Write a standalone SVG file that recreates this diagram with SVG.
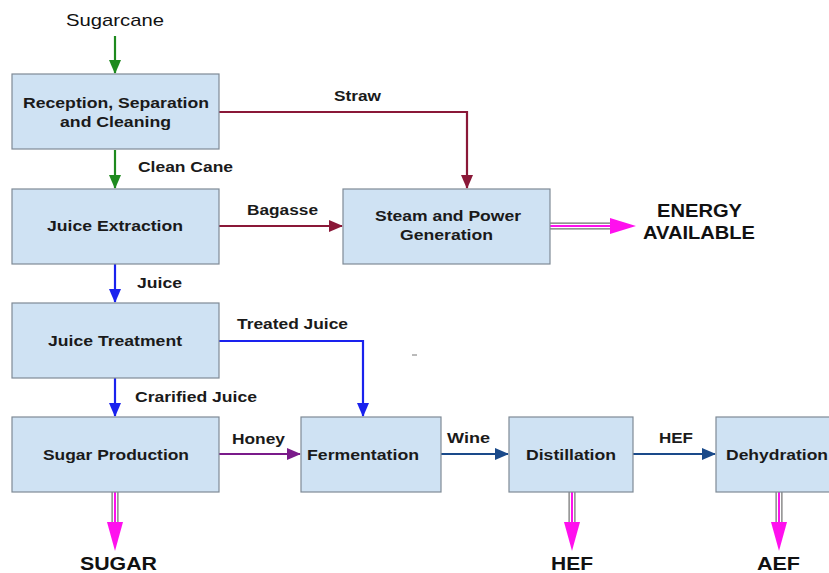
<svg xmlns="http://www.w3.org/2000/svg" width="829" height="573" viewBox="0 0 829 573">
<style>
.box{fill:#cfe2f3;stroke:#7f8a96;stroke-width:1.2}
.bt{font-family:"Liberation Sans",Arial,sans-serif;font-size:15px;font-weight:bold;fill:#1a1a1a;text-anchor:start}
.lb{font-family:"Liberation Sans",Arial,sans-serif;font-size:14px;font-weight:bold;fill:#1a1a1a;text-anchor:start}
.big{font-family:"Liberation Sans",Arial,sans-serif;font-size:18px;font-weight:bold;fill:#111;text-anchor:start}
.ln{fill:none;stroke-width:2.2}
</style>
<defs>
<marker id="ag" markerWidth="14" markerHeight="12" refX="13" refY="6" orient="auto" markerUnits="userSpaceOnUse" viewBox="0 0 14 12"><path d="M0,0 L14,6 L0,12 Z" fill="#1e8a1e"/></marker>
<marker id="ar" markerWidth="14" markerHeight="12" refX="13" refY="6" orient="auto" markerUnits="userSpaceOnUse" viewBox="0 0 14 12"><path d="M0,0 L14,6 L0,12 Z" fill="#8a1838"/></marker>
<marker id="ab" markerWidth="14" markerHeight="12" refX="13" refY="6" orient="auto" markerUnits="userSpaceOnUse" viewBox="0 0 14 12"><path d="M0,0 L14,6 L0,12 Z" fill="#1a22ee"/></marker>
<marker id="ap" markerWidth="14" markerHeight="12" refX="13" refY="6" orient="auto" markerUnits="userSpaceOnUse" viewBox="0 0 14 12"><path d="M0,0 L14,6 L0,12 Z" fill="#7a1a8a"/></marker>
<marker id="an" markerWidth="14" markerHeight="12" refX="13" refY="6" orient="auto" markerUnits="userSpaceOnUse" viewBox="0 0 14 12"><path d="M0,0 L14,6 L0,12 Z" fill="#1a4a8a"/></marker>
</defs>
<rect width="829" height="573" fill="#fff"/>
<text x="66" y="26" textLength="98" lengthAdjust="spacingAndGlyphs" style="font-family:'Liberation Sans',Arial,sans-serif;font-size:17px;fill:#111">Sugarcane</text>
<g id="connectors">
<path class="ln" d="M115,36 V73" stroke="#1e8a1e" marker-end="url(#ag)"/>
<path class="ln" d="M115,150 V188" stroke="#1e8a1e" marker-end="url(#ag)"/>
<path class="ln" d="M219,112 H467 V188" stroke="#8a1838" marker-end="url(#ar)"/>
<path class="ln" d="M219,226 H342" stroke="#8a1838" marker-end="url(#ar)"/>
<path class="ln" d="M115,264 V302" stroke="#1a22ee" marker-end="url(#ab)"/>
<path class="ln" d="M219,341 H363 V416" stroke="#1a22ee" marker-end="url(#ab)"/>
<path class="ln" d="M115,378 V416" stroke="#1a22ee" marker-end="url(#ab)"/>
<path class="ln" d="M219,454 H300" stroke="#7a1a8a" marker-end="url(#ap)"/>
<path class="ln" d="M441,454 H508" stroke="#1a4a8a" marker-end="url(#an)"/>
<path class="ln" d="M633,454 H715" stroke="#1a4a8a" marker-end="url(#an)"/>
<g id="double-arrows">
<path d="M550,226 H612" stroke="#6e6e6e" stroke-width="7" fill="none"/>
<path d="M550,226 H612" stroke="#fff" stroke-width="4.6" fill="none"/>
<path d="M550,226 H612" stroke="#ff10ee" stroke-width="2" fill="none"/>
<path d="M610,218 L636,226 L610,234 Z" fill="#ff10ee"/>
<path d="M115,492 V526" stroke="#6e6e6e" stroke-width="7" fill="none"/>
<path d="M115,492 V526" stroke="#fff" stroke-width="4.6" fill="none"/>
<path d="M115,492 V526" stroke="#ff10ee" stroke-width="2" fill="none"/>
<path d="M107,522 L115,551 L123,522 Z" fill="#ff10ee"/>
<path d="M572,492 V526" stroke="#6e6e6e" stroke-width="7" fill="none"/>
<path d="M572,492 V526" stroke="#fff" stroke-width="4.6" fill="none"/>
<path d="M572,492 V526" stroke="#ff10ee" stroke-width="2" fill="none"/>
<path d="M564,522 L572,551 L580,522 Z" fill="#ff10ee"/>
<path d="M779,492 V526" stroke="#6e6e6e" stroke-width="7" fill="none"/>
<path d="M779,492 V526" stroke="#fff" stroke-width="4.6" fill="none"/>
<path d="M779,492 V526" stroke="#ff10ee" stroke-width="2" fill="none"/>
<path d="M771,522 L779,551 L787,522 Z" fill="#ff10ee"/>
</g>
</g>
<g id="labels">
<text class="lb" x="138" y="172" textLength="95" lengthAdjust="spacingAndGlyphs">Clean Cane</text>
<text class="lb" x="334" y="101" textLength="47" lengthAdjust="spacingAndGlyphs">Straw</text>
<text class="lb" x="247" y="215" textLength="71" lengthAdjust="spacingAndGlyphs">Bagasse</text>
<text class="lb" x="137" y="288" textLength="45" lengthAdjust="spacingAndGlyphs">Juice</text>
<text class="lb" x="237" y="329" textLength="111" lengthAdjust="spacingAndGlyphs">Treated Juice</text>
<text class="lb" x="135" y="402" textLength="122" lengthAdjust="spacingAndGlyphs">Crarified Juice</text>
<text class="lb" x="232" y="444" textLength="53" lengthAdjust="spacingAndGlyphs">Honey</text>
<text class="lb" x="447" y="443" textLength="43" lengthAdjust="spacingAndGlyphs">Wine</text>
<text class="lb" x="659" y="443" textLength="34" lengthAdjust="spacingAndGlyphs">HEF</text>
</g>
<line x1="412" y1="355" x2="417" y2="355" stroke="#777" stroke-width="1"/>
<g id="n-reception"><rect class="box" x="12" y="74" width="207" height="75"/><text class="bt" x="23" y="108" textLength="186" lengthAdjust="spacingAndGlyphs">Reception, Separation</text><text class="bt" x="60" y="127" textLength="111" lengthAdjust="spacingAndGlyphs">and Cleaning</text></g>
<g id="n-extraction"><rect class="box" x="12" y="189" width="207" height="75"/><text class="bt" x="47" y="231" textLength="136" lengthAdjust="spacingAndGlyphs">Juice Extraction</text></g>
<g id="n-treatment"><rect class="box" x="12" y="303" width="207" height="75"/><text class="bt" x="48" y="346" textLength="134" lengthAdjust="spacingAndGlyphs">Juice Treatment</text></g>
<g id="n-sugar"><rect class="box" x="12" y="417" width="207" height="75"/><text class="bt" x="43" y="460" textLength="146" lengthAdjust="spacingAndGlyphs">Sugar Production</text></g>
<g id="n-steam"><rect class="box" x="343" y="189" width="207" height="75"/><text class="bt" x="375" y="221" textLength="146" lengthAdjust="spacingAndGlyphs">Steam and Power</text><text class="bt" x="400" y="240" textLength="93" lengthAdjust="spacingAndGlyphs">Generation</text></g>
<g id="n-fermentation"><rect class="box" x="301" y="417" width="140" height="75"/><text class="bt" x="307" y="460" textLength="112" lengthAdjust="spacingAndGlyphs">Fermentation</text></g>
<g id="n-distillation"><rect class="box" x="509" y="417" width="124" height="75"/><text class="bt" x="526" y="460" textLength="90" lengthAdjust="spacingAndGlyphs">Distillation</text></g>
<g id="n-dehydration"><rect class="box" x="716" y="417" width="120" height="75"/><text class="bt" x="726" y="460" textLength="102" lengthAdjust="spacingAndGlyphs">Dehydration</text></g>
<g id="outputs">
<text class="big" x="657" y="217" textLength="85" lengthAdjust="spacingAndGlyphs">ENERGY</text>
<text class="big" x="643" y="239" textLength="112" lengthAdjust="spacingAndGlyphs">AVAILABLE</text>
<text class="big" x="80" y="570" textLength="77" lengthAdjust="spacingAndGlyphs">SUGAR</text>
<text class="big" x="551" y="570" textLength="42" lengthAdjust="spacingAndGlyphs">HEF</text>
<text class="big" x="757" y="570" textLength="43" lengthAdjust="spacingAndGlyphs">AEF</text>
</g>
</svg>
